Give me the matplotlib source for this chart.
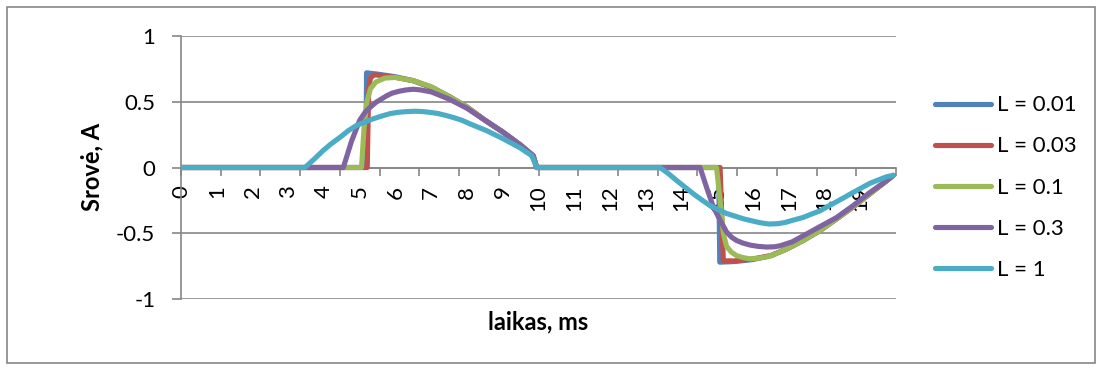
import numpy as np
import matplotlib.pyplot as plt
from matplotlib.patches import Rectangle

plt.rcParams['font.family'] = ['Lato', 'DejaVu Sans']
plt.rcParams['axes.unicode_minus'] = False

# Data (time in ms, current in A)
t_001 = [0, 5.17, 5.19, 5.5, 6.0, 6.5, 7.0, 7.5, 8.0, 8.5, 9.0, 9.5, 9.85, 9.95,
         15.04, 15.07, 15.5, 16.0, 16.5, 16.94, 17.4, 17.87, 18.34, 18.8, 19.27, 19.74, 19.92]
i_001 = [0, 0, 0.72, 0.71, 0.69, 0.66, 0.61, 0.54, 0.46, 0.36, 0.27, 0.17, 0.09, 0,
         0, -0.72, -0.715, -0.70, -0.67, -0.62, -0.555, -0.48, -0.39, -0.30, -0.20, -0.10, -0.06]

t_003 = [0, 5.21, 5.25, 5.3, 5.4, 5.6, 6.0, 6.5, 7.0, 7.5, 8.0, 8.5, 9.0, 9.5, 9.85, 9.95,
         15.08, 15.17, 15.5, 16.0, 16.5, 16.94, 17.4, 17.87, 18.34, 18.8, 19.27, 19.74, 19.92]
i_003 = [0, 0, 0.6, 0.68, 0.705, 0.70, 0.685, 0.66, 0.61, 0.54, 0.46, 0.36, 0.27, 0.17, 0.09, 0,
         0, -0.71, -0.71, -0.695, -0.67, -0.62, -0.555, -0.48, -0.39, -0.30, -0.20, -0.10, -0.06]

t_01 = [0, 5.05, 5.12, 5.2, 5.3, 5.45, 5.7, 6.0, 6.5, 7.0, 7.5, 8.0, 8.5, 9.0, 9.5, 9.85, 9.95,
        14.98, 15.08, 15.17, 15.26, 15.4, 15.54, 15.72, 15.92, 16.15, 16.38, 16.65, 16.94, 17.4,
        17.87, 18.34, 18.8, 19.27, 19.74, 19.92]
i_01 = [0, 0, 0.3, 0.5, 0.6, 0.65, 0.68, 0.685, 0.66, 0.615, 0.54, 0.46, 0.36, 0.27, 0.17, 0.09, 0,
        0, -0.25, -0.5, -0.6, -0.645, -0.67, -0.685, -0.695, -0.69, -0.68, -0.655, -0.62, -0.555,
        -0.48, -0.39, -0.30, -0.20, -0.10, -0.06]

t_03 = [0, 4.54, 4.77, 5.0, 5.15, 5.3, 5.45, 5.6, 5.75, 5.9, 6.1, 6.3, 6.5, 6.7, 7.0, 7.5, 8.0,
        8.5, 9.0, 9.5, 9.85, 9.95,
        14.52, 14.7, 14.89, 15.08, 15.26, 15.4, 15.54, 15.72, 15.92, 16.15, 16.38, 16.6, 16.76,
        17.1, 17.4, 17.87, 18.34, 18.8, 19.27, 19.74, 19.92]
i_03 = [0, 0, 0.2, 0.36, 0.42, 0.46, 0.495, 0.52, 0.545, 0.565, 0.58, 0.59, 0.595, 0.59, 0.575,
        0.52, 0.45, 0.36, 0.27, 0.17, 0.09, 0,
        0, -0.15, -0.30, -0.40, -0.49, -0.53, -0.555, -0.575, -0.59, -0.6, -0.605, -0.603, -0.595,
        -0.565, -0.52, -0.45, -0.38, -0.29, -0.19, -0.10, -0.06]

t_1 = [0, 3.47, 3.75, 3.98, 4.2, 4.45, 4.68, 4.91, 5.14, 5.37, 5.6, 5.85, 6.08, 6.31, 6.55, 6.78,
       7.0, 7.2, 7.42, 7.62, 7.85, 8.1, 8.55, 9.0, 9.48, 9.81, 9.95,
       13.4, 13.65, 13.87, 14.1, 14.33, 14.56, 14.8, 15.03, 15.26, 15.5, 15.73, 15.96, 16.2, 16.45,
       16.7, 16.9, 17.1, 17.4, 17.63, 17.87, 18.1, 18.34, 18.8, 19.27, 19.74, 19.92]
i_1 = [0, 0, 0.07, 0.13, 0.18, 0.23, 0.28, 0.32, 0.345, 0.37, 0.39, 0.41, 0.42, 0.425, 0.428,
       0.425, 0.418, 0.41, 0.395, 0.38, 0.36, 0.33, 0.28, 0.22, 0.15, 0.09, 0,
       0, -0.05, -0.10, -0.15, -0.20, -0.245, -0.29, -0.32, -0.35, -0.37, -0.39, -0.405, -0.42,
       -0.43, -0.427, -0.418, -0.402, -0.38, -0.355, -0.33, -0.295, -0.26, -0.19, -0.12, -0.07, -0.06]

labels = ['L = 0.01', 'L = 0.03', 'L = 0.1', 'L = 0.3', 'L = 1']
colors = ['#4F81BD', '#C0504D', '#9BBB59', '#8064A2', '#4BACC6']
series = [(t_001, i_001), (t_003, i_003), (t_01, i_01), (t_03, i_03), (t_1, i_1)]

W, H = 1100, 370
fig = plt.figure(figsize=(W / 100, H / 100), dpi=100)
ax = fig.add_axes([181 / W, 1 - 299 / H, (896 - 181) / W, (299 - 36) / H])

for k, ((t, i), lab, c) in enumerate(zip(series, labels, colors)):
    ax.plot(t, i, color=c, lw=3.7, label=lab, solid_capstyle='round',
            solid_joinstyle='round', zorder=3 + k)

gray = '#868686'
ax.set_xlim(0, 20)
ax.set_ylim(-1, 1)
ax.set_yticks([-1, -0.5, 0, 0.5, 1])
ax.set_yticklabels(['-1', '-0.5', '0', '0.5', '1'])
ax.yaxis.grid(True, color=gray, lw=1.2)
ax.set_axisbelow(True)

for s in ['top', 'right']:
    ax.spines[s].set_visible(False)
ax.spines['bottom'].set_position(('data', 0))
ax.spines['bottom'].set_color(gray)
ax.spines['left'].set_color(gray)
ax.spines['bottom'].set_linewidth(1.2)
ax.spines['left'].set_linewidth(1.2)

# tick marks and category labels do not line up in the original
ax.xaxis.remove_overlapping_locs = False
ax.set_xticks(np.linspace(0, 20, 19))
ax.set_xticklabels([])
ax.set_xticks(np.arange(0, 20), minor=True)
ax.set_xticklabels([str(k) for k in range(20)], minor=True, rotation=90)
ax.tick_params(axis='x', which='major', direction='out', length=6, color=gray, width=1.2)
ax.tick_params(axis='x', which='minor', length=0, pad=13, labelsize=16)
ax.tick_params(axis='y', direction='out', length=6.5, color=gray, width=1.2,
               pad=12, labelsize=16)

fig.text(92 / W, 1 - 167 / H, 'Srovė, A', rotation=90, ha='center', va='center',
         fontsize=17, fontweight='bold')
fig.text(538 / W, 1 - 322 / H, 'laikas, ms', ha='center', va='center',
         fontsize=17, fontweight='bold')

fig.legend(loc='center left', bbox_to_anchor=(935 / W, 1 - 187.5 / H), frameon=False,
           fontsize=16, handlelength=2.5, handletextpad=0.3, labelspacing=0.95,
           borderpad=0, borderaxespad=0)

fig.patches.append(Rectangle((7 / W, 1 - 363 / H), (1095 - 7) / W, (363 - 7) / H,
                             transform=fig.transFigure, fill=False, edgecolor=gray, lw=1.2))

fig.savefig('out.png', dpi=100)
